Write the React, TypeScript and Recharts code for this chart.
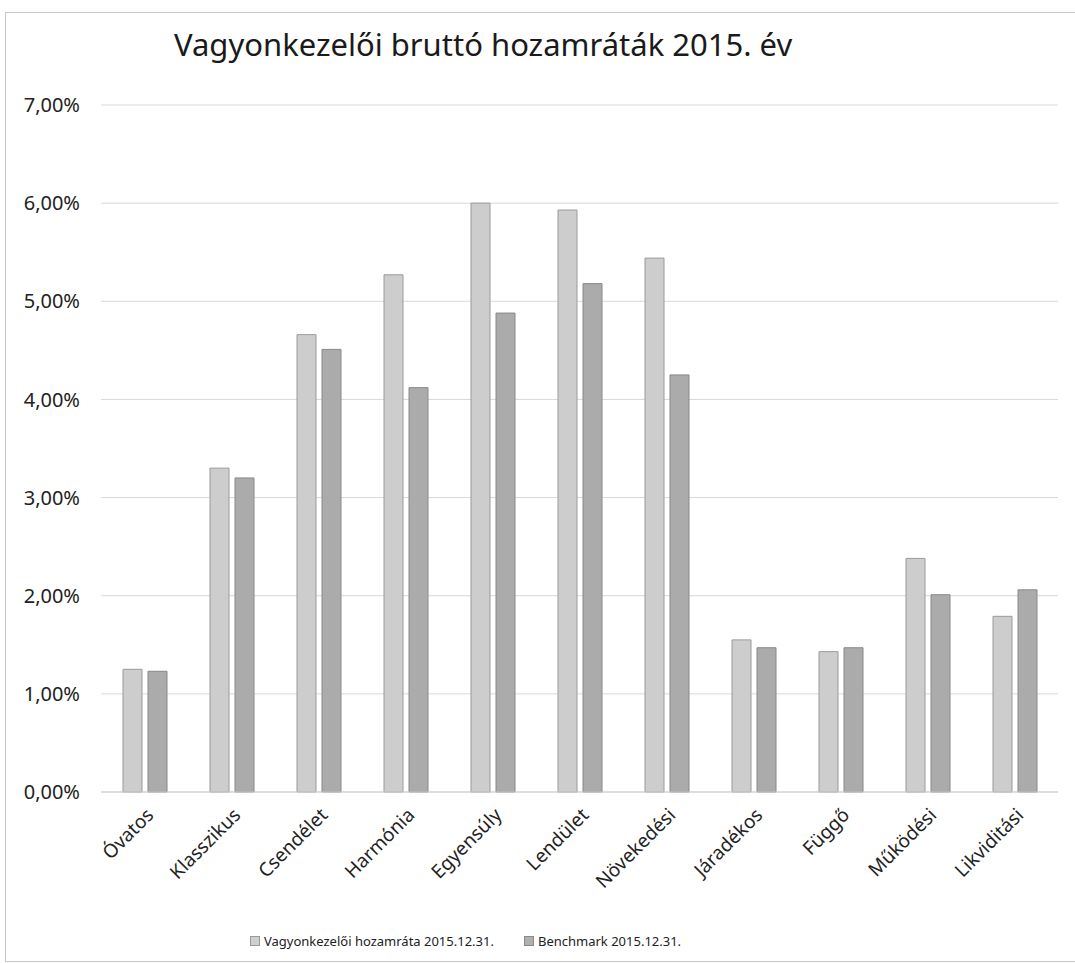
import { BarChart, Bar, XAxis, YAxis, CartesianGrid, Legend } from 'recharts'

const categories = [
  'Óvatos',
  'Klasszikus',
  'Csendélet',
  'Harmónia',
  'Egyensúly',
  'Lendület',
  'Növekedési',
  'Járadékos',
  'Függő',
  'Működési',
  'Likviditási',
]
const vagyonkezeloi = [1.25, 3.3, 4.66, 5.27, 6.0, 5.93, 5.44, 1.55, 1.43, 2.38, 1.79]
const benchmark = [1.23, 3.2, 4.51, 4.12, 4.88, 5.18, 4.25, 1.47, 1.47, 2.01, 2.06]
const yTicks = [0, 1, 2, 3, 4, 5, 6, 7]

const data = categories.map((name, i) => ({
  name,
  vagyon: vagyonkezeloi[i],
  bench: benchmark[i],
}))

const FONT = '"Noto Sans", "Open Sans", sans-serif'

const fmtPct = (v: number) => v.toFixed(2).replace('.', ',') + '%'

function XTick(props: any) {
  const { x, y, payload } = props
  return (
    <g transform={`translate(${x + 6},${y + 12})`}>
      <text
        textAnchor="end"
        transform="rotate(-45)"
        fontSize={19}
        fontFamily={FONT}
        fill="#222"
        dy={6}
      >
        {payload.value}
      </text>
    </g>
  )
}

function LegendBox() {
  const items = [
    { label: 'Vagyonkezelői hozamráta 2015.12.31.', fill: '#cfcfcf', stroke: '#9a9a9a' },
    { label: 'Benchmark 2015.12.31.', fill: '#b0b0b0', stroke: '#8a8a8a' },
  ]
  return (
    <div
      style={{
        display: 'flex',
        justifyContent: 'flex-start',
        gap: 30,
        fontFamily: FONT,
        fontSize: 13,
        color: '#222',
        paddingLeft: 244,
        paddingTop: 6,
      }}
    >
      {items.map((it) => (
        <span key={it.label} style={{ display: 'flex', alignItems: 'center', gap: 4 }}>
          <span
            style={{
              display: 'inline-block',
              width: 8,
              height: 8,
              background: it.fill,
              border: `1px solid ${it.stroke}`,
            }}
          />
          {it.label}
        </span>
      ))}
    </div>
  )
}

export default function App() {
  return (
    <div
      style={{
        position: 'absolute',
        left: 5,
        top: 12,
        width: 1080,
        height: 948,
        border: '1px solid #c8c8c8',
        background: '#fff',
      }}
    >
      <div
        style={{
          position: 'absolute',
          left: 168,
          top: 10,
          fontFamily: FONT,
          fontSize: 31,
          color: '#1a1a1a',
          whiteSpace: 'nowrap',
        }}
      >
        Vagyonkezelői bruttó hozamráták 2015. év
      </div>
      <BarChart
        width={1060}
        height={948}
        data={data}
        margin={{ top: 92, right: 8, left: 0, bottom: 0 }}
        barSize={19}
        barGap={6}
      >
        <CartesianGrid vertical={false} stroke="#d9d9d9" />
        <XAxis
          dataKey="name"
          interval={0}
          tick={<XTick />}
          tickLine={false}
          axisLine={{ stroke: '#d0d0d0' }}
          height={134}
        />
        <YAxis
          domain={[0, 7]}
          ticks={yTicks}
          tickFormatter={fmtPct}
          width={95}
          axisLine={false}
          tickLine={false}
          tickMargin={15}
          tick={{ fontSize: 20, fontFamily: FONT, fill: '#222' }}
        />
        <Legend verticalAlign="bottom" content={<LegendBox />} height={35} />
        <Bar
          dataKey="vagyon"
          name="Vagyonkezelői hozamráta 2015.12.31."
          fill="#cdcdcd"
          stroke="#9a9a9a"
          strokeWidth={1}
          isAnimationActive={false}
        />
        <Bar
          dataKey="bench"
          name="Benchmark 2015.12.31."
          fill="#ababab"
          stroke="#888888"
          strokeWidth={1}
          isAnimationActive={false}
        />
      </BarChart>
    </div>
  )
}
